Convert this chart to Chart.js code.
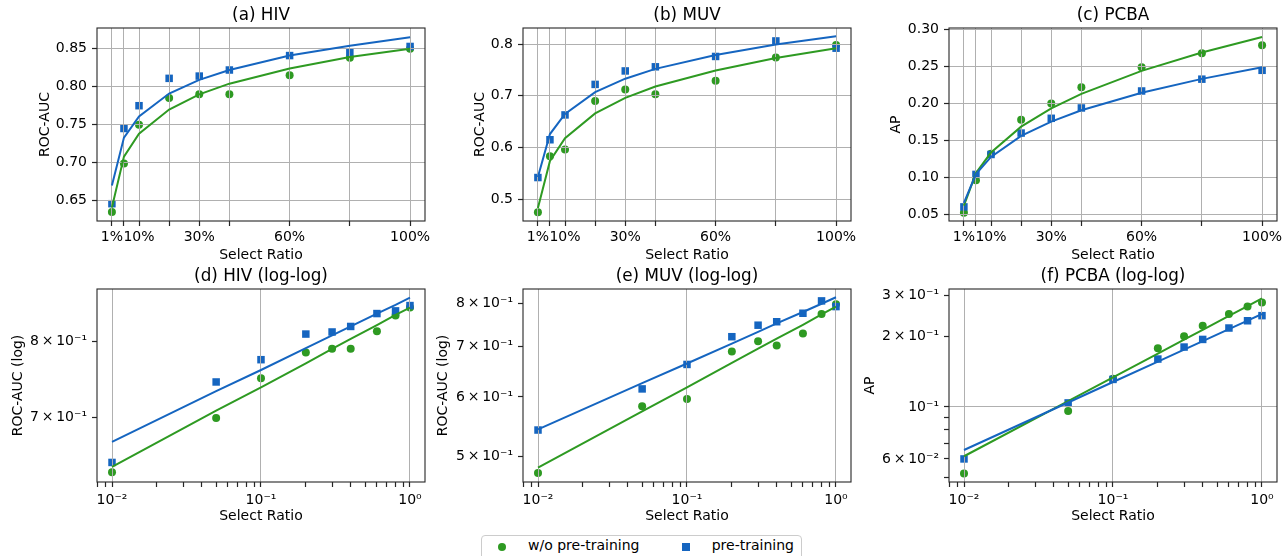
<!DOCTYPE html>
<html>
<head>
<meta charset="utf-8">
<script src="https://cdn.jsdelivr.net/npm/chart.js@4/dist/chart.umd.min.js"></script>
<style>
html,body{margin:0;padding:0;background:#fff;overflow:hidden;width:1283px;height:556px;position:relative;}
canvas{position:absolute;}
.lg{position:absolute;font-family:'DejaVu Sans';font-size:14px;line-height:14px;color:#000;white-space:nowrap;}
#legendBox{position:absolute;left:481px;top:535px;width:321px;height:40px;border:1px solid #cccccc;border-radius:4px;box-sizing:border-box;background:#fff;}
</style>
</head>
<body>
<canvas id="ca" width="456" height="266" style="left:0px;top:0px"></canvas>
<canvas id="cb" width="456" height="266" style="left:426px;top:0px"></canvas>
<canvas id="cc" width="456" height="266" style="left:852px;top:0px"></canvas>
<canvas id="cd" width="456" height="266" style="left:0px;top:261px"></canvas>
<canvas id="ce" width="456" height="266" style="left:426px;top:261px"></canvas>
<canvas id="cf" width="456" height="266" style="left:852px;top:261px"></canvas>
<div id="legendBox"></div>
<div class="lg" id="lgDot" style="left:498px;top:543px;width:8px;height:8px;border-radius:50%;"></div>
<div class="lg" style="left:528px;top:538px">w/o pre-training</div>
<div class="lg" id="lgSq" style="left:682px;top:543px;width:7.5px;height:7.5px;"></div>
<div class="lg" style="left:711.7px;top:538px">pre-training</div>
<script>
// ---------------- data ----------------
const ratios = [0.01, 0.05, 0.1, 0.2, 0.3, 0.4, 0.6, 0.8, 1.0];

const hivWo     = [0.635, 0.699, 0.750, 0.785, 0.790, 0.790, 0.815, 0.838, 0.850];
const hivPre    = [0.646, 0.745, 0.775, 0.811, 0.814, 0.822, 0.841, 0.845, 0.853];
const hivWoFit  = [0.641, 0.708, 0.738, 0.770, 0.790, 0.804, 0.824, 0.839, 0.850];
const hivPreFit = [0.670, 0.733, 0.761, 0.791, 0.809, 0.822, 0.841, 0.854, 0.865];

const muvWo     = [0.475, 0.583, 0.596, 0.690, 0.712, 0.703, 0.729, 0.774, 0.798];
const muvPre    = [0.542, 0.615, 0.663, 0.722, 0.748, 0.756, 0.776, 0.806, 0.792];
const muvWoFit  = [0.483, 0.574, 0.618, 0.666, 0.696, 0.718, 0.749, 0.773, 0.792];
const muvPreFit = [0.543, 0.626, 0.665, 0.707, 0.733, 0.752, 0.779, 0.799, 0.815];

const pcbaWo     = [0.052, 0.096, 0.132, 0.178, 0.200, 0.222, 0.249, 0.268, 0.279];
const pcbaPre    = [0.060, 0.104, 0.131, 0.160, 0.180, 0.194, 0.217, 0.233, 0.245];
const pcbaWoFit  = [0.0616, 0.1058, 0.1336, 0.1687, 0.1934, 0.2131, 0.2442, 0.2690, 0.2900];
const pcbaPreFit = [0.0655, 0.1044, 0.1277, 0.1561, 0.1756, 0.1909, 0.2147, 0.2334, 0.2490];

// tick values / labels
const linXTicks  = [0.01, 0.05, 0.1, 0.2, 0.3, 0.4, 0.6, 0.8, 1.0];
const linXLabels = ['1%', '', '10%', '', '30%', '', '60%', '', '100%'];
const logXTicks  = [0.008, 0.009, 0.01, 0.02, 0.03, 0.04, 0.05, 0.06, 0.07, 0.08, 0.09, 0.1, 0.2, 0.3, 0.4, 0.5, 0.6, 0.7, 0.8, 0.9, 1];
const logXLabels = ['', '', '10\u207B\u00B2', '', '', '', '', '', '', '', '', '10\u207B\u00B9', '', '', '', '', '', '', '', '', '10\u2070'];
const logXMajor  = [0.01, 0.1, 1];

const hivYTicks  = [0.65, 0.70, 0.75, 0.80, 0.85];
const hivYLabels = ['0.65', '0.70', '0.75', '0.80', '0.85'];
const muvYTicks  = [0.5, 0.6, 0.7, 0.8];
const muvYLabels = ['0.5', '0.6', '0.7', '0.8'];
const pcbaYTicks  = [0.05, 0.10, 0.15, 0.20, 0.25, 0.30];
const pcbaYLabels = ['0.05', '0.10', '0.15', '0.20', '0.25', '0.30'];

const T = '\u2009\u00D7\u2009';
const hivLogYTicks  = [0.7, 0.8];
const hivLogYLabels = ['7' + T + '10\u207B\u00B9', '8' + T + '10\u207B\u00B9'];
const muvLogYTicks  = [0.5, 0.6, 0.7, 0.8];
const muvLogYLabels = ['5' + T + '10\u207B\u00B9', '6' + T + '10\u207B\u00B9', '7' + T + '10\u207B\u00B9', '8' + T + '10\u207B\u00B9'];
const pcbaLogYTicks  = [0.05, 0.06, 0.07, 0.08, 0.09, 0.1, 0.2, 0.3];
const pcbaLogYLabels = ['', '6' + T + '10\u207B\u00B2', '', '', '', '10\u207B\u00B9', '2' + T + '10\u207B\u00B9', '3' + T + '10\u207B\u00B9'];
const pcbaLogYMajor  = [0.1];

// ---------------- styles ----------------
const GREEN = '#2e9a22';
const BLUE = '#1565c0';
const GRID = '#b0b0b0';
const SPINE = '#262626';
document.getElementById('lgDot').style.background = GREEN;
document.getElementById('lgSq').style.background = BLUE;

Chart.defaults.font.family = "'DejaVu Sans', sans-serif";
Chart.defaults.font.size = 14;
Chart.defaults.color = '#000';

const frame = {
  id: 'frame',
  afterDraw(chart) {
    const a = chart.chartArea, c = chart.ctx;
    c.save();
    c.strokeStyle = SPINE;
    c.lineWidth = 1.1;
    c.strokeRect(a.left, a.top, a.right - a.left, a.bottom - a.top);
    c.restore();
  }
};
// matplotlib draws scatter markers below the grid, fitted lines above it
const gridOverPoints = {
  id: 'gridOverPoints',
  afterDatasetDraw(chart, args) {
    if (args.index === 1) {
      chart.scales.x.drawGrid(chart.chartArea);
      chart.scales.y.drawGrid(chart.chartArea);
    }
  }
};

const panels = [
  {id: 'ca', title: '(a) HIV', ylab: 'ROC-AUC', log: false, wo: hivWo, pre: hivPre, woFit: hivWoFit, preFit: hivPreFit,
   yMin: 0.6232, yMax: 0.8773, yT: hivYTicks, yL: hivYLabels, yMajor: null, yPad: 36.6},
  {id: 'cb', title: '(b) MUV', ylab: 'ROC-AUC', log: false, wo: muvWo, pre: muvPre, woFit: muvWoFit, preFit: muvPreFit,
   yMin: 0.458, yMax: 0.831, yT: muvYTicks, yL: muvYLabels, yMajor: null, yPad: 46.1},
  {id: 'cc', title: '(c) PCBA', ylab: 'AP', log: false, wo: pcbaWo, pre: pcbaPre, woFit: pcbaWoFit, preFit: pcbaPreFit,
   yMin: 0.0409, yMax: 0.3023, yT: pcbaYTicks, yL: pcbaYLabels, yMajor: null, yPad: 35.9},
  {id: 'cd', title: '(d) HIV (log-log)', ylab: 'ROC-AUC (log)', log: true, wo: hivWo, pre: hivPre, woFit: hivWoFit, preFit: hivPreFit,
   yMin: 0.6240, yMax: 0.8784, yT: hivLogYTicks, yL: hivLogYLabels, yMajor: [], yPad: 9.6},
  {id: 'ce', title: '(e) MUV (log-log)', ylab: 'ROC-AUC (log)', log: true, wo: muvWo, pre: muvPre, woFit: muvWoFit, preFit: muvPreFit,
   yMin: 0.4620, yMax: 0.8360, yT: muvLogYTicks, yL: muvLogYLabels, yMajor: [], yPad: 9.3},
  {id: 'cf', title: '(f) PCBA (log-log)', ylab: 'AP', log: true, wo: pcbaWo, pre: pcbaPre, woFit: pcbaWoFit, preFit: pcbaPreFit,
   yMin: 0.04784, yMax: 0.3183, yT: pcbaLogYTicks, yL: pcbaLogYLabels, yMajor: pcbaLogYMajor, yPad: 9.6}
];

function pts(ys) { return ratios.map((x, i) => ({x: x, y: ys[i]})); }

panels.forEach(p => {
  const xT = p.log ? logXTicks : linXTicks;
  const xL = p.log ? logXLabels : linXLabels;
  const xMajor = p.log ? logXMajor : null;
  new Chart(document.getElementById(p.id), {
    type: 'scatter',
    data: {
      datasets: [
        {label: 'w/o pre-training', data: pts(p.wo), pointStyle: 'circle', pointRadius: 4,
         pointBackgroundColor: GREEN, pointBorderColor: GREEN, pointBorderWidth: 0, order: 4},
        {label: 'pre-training', data: pts(p.pre), pointStyle: 'rect', pointRadius: 5.3,
         pointBackgroundColor: BLUE, pointBorderColor: BLUE, pointBorderWidth: 0, order: 3},
        {label: 'w/o pre-training fit', data: pts(p.woFit), showLine: true, borderColor: GREEN, borderWidth: 2,
         pointRadius: 0, fill: false, order: 2},
        {label: 'pre-training fit', data: pts(p.preFit), showLine: true, borderColor: BLUE, borderWidth: 2,
         pointRadius: 0, fill: false, order: 1}
      ]
    },
    options: {
      responsive: false,
      animation: false,
      events: [],
      layout: {padding: {left: 0, right: 31, top: 0, bottom: 0}},
      plugins: {
        legend: {display: false},
        tooltip: {enabled: false},
        title: {display: true, text: p.title, fullSize: false, color: '#000',
                font: {size: 16.8, weight: 'normal'}, padding: {top: 5.9, bottom: 1.94}}
      },
      scales: {
        x: {
          type: p.log ? 'logarithmic' : 'linear',
          bounds: 'data',
          min: p.log ? 0.00793 : -0.0395,
          max: p.log ? 1.2612 : 1.0495,
          afterBuildTicks: s => { s.ticks = xT.map(v => ({value: v})); },
          afterFit: s => { s.height = 45; },
          ticks: {autoSkip: false, maxRotation: 0, minRotation: 0, padding: p.log ? 5 : 3, color: '#000',
                  callback: (v, i) => xL[i]},
          grid: {color: ctx => (!xMajor || (ctx.tick && xMajor.includes(ctx.tick.value))) ? GRID : 'rgba(0,0,0,0)',
                 lineWidth: 1, tickColor: SPINE, tickLength: 5, tickWidth: 1.1},
          border: {display: false},
          title: {display: true, text: 'Select Ratio', color: '#000', font: {size: 14}, padding: {top: 0, bottom: 2.6}}
        },
        y: {
          type: p.log ? 'logarithmic' : 'linear',
          bounds: 'data',
          min: p.yMin,
          max: p.yMax,
          afterBuildTicks: s => { s.ticks = p.yT.map(v => ({value: v})); },
          afterFit: s => { s.width = 97; },
          ticks: {autoSkip: false, padding: 5, color: '#000', callback: (v, i) => p.yL[i]},
          grid: {color: ctx => (!p.yMajor || (ctx.tick && p.yMajor.includes(ctx.tick.value))) ? GRID : 'rgba(0,0,0,0)',
                 lineWidth: 1, tickColor: SPINE, tickLength: 5, tickWidth: 1.1},
          border: {display: false},
          title: {display: true, text: p.ylab, color: '#000', font: {size: 14}, padding: {top: p.yPad, bottom: 0}}
        }
      }
    },
    plugins: [gridOverPoints, frame]
  });
});
</script>
</body>
</html>
